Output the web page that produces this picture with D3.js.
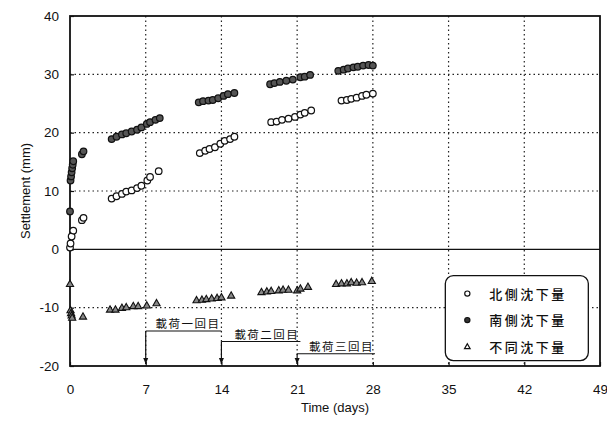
<!DOCTYPE html>
<html>
<head>
<meta charset="utf-8">
<script src="https://cdn.jsdelivr.net/npm/d3@7"></script>
<style>
  body { margin: 0; background: #fff; }
  text { font-family: "Liberation Sans", Arial, sans-serif; fill: #111; }
  .cjk { font-family: "Noto Sans CJK JP", sans-serif; }
</style>
</head>
<body>
<div id="chart-area"></div>
<script>
// North side settlement (open circles): [day, mm]
var northData = [
    [0, 0.3], [0.05, 1.0], [0.15, 2.2], [0.3, 3.2], [1.1, 5.0], [1.25, 5.4],
    [3.85, 8.7], [4.3, 9.1], [4.8, 9.5], [5.2, 9.9], [5.7, 10.1], [6.2, 10.5], [6.6, 10.9], [7.15, 11.8], [7.4, 12.4], [8.2, 13.4],
    [12.0, 16.5], [12.5, 16.9], [12.9, 17.2], [13.4, 17.5], [13.9, 18.1], [14.3, 18.6], [14.8, 18.9], [15.2, 19.3],
    [18.6, 21.8], [19.1, 21.9], [19.6, 22.2], [20.2, 22.4], [20.8, 22.7], [21.3, 23.1], [21.7, 23.4], [22.3, 23.8],
    [25.1, 25.5], [25.6, 25.6], [26.0, 25.8], [26.5, 26.0], [27.0, 26.3], [27.4, 26.5], [28.0, 26.7]
];

// South side settlement (filled circles)
var southData = [
    [0, 6.5], [0.05, 11.8], [0.1, 12.5], [0.15, 13.2], [0.2, 13.9], [0.25, 14.5], [0.3, 15.1], [1.1, 16.3], [1.25, 16.8],
    [3.85, 18.9], [4.3, 19.3], [4.8, 19.7], [5.2, 19.9], [5.7, 20.2], [6.2, 20.5], [6.6, 20.9], [7.1, 21.5], [7.4, 21.8], [7.9, 22.2], [8.3, 22.5],
    [11.9, 25.2], [12.3, 25.4], [12.8, 25.5], [13.2, 25.6], [13.7, 25.9], [14.2, 26.3], [14.6, 26.6], [15.2, 26.8],
    [18.5, 28.3], [18.9, 28.5], [19.4, 28.7], [20.0, 28.9], [20.6, 29.1], [21.3, 29.5], [21.7, 29.6], [22.2, 29.9],
    [24.8, 30.6], [25.3, 30.8], [25.7, 31.0], [26.2, 31.2], [26.6, 31.3], [27.1, 31.5], [27.6, 31.6], [28.0, 31.5]
];

// Differential settlement (triangles)
var diffData = [
    [0, -5.9], [0.05, -10.4], [0.1, -10.9], [0.15, -11.3], [0.2, -11.7], [1.2, -11.5],
    [3.7, -10.3], [4.2, -10.3], [4.8, -10.0], [5.2, -9.9], [5.85, -9.7], [6.3, -9.7], [7.1, -9.6], [8.0, -9.2],
    [11.7, -8.7], [12.2, -8.6], [12.6, -8.5], [13.1, -8.4], [13.6, -8.3], [14.0, -8.2], [14.9, -7.9],
    [17.7, -7.3], [18.2, -7.2], [18.6, -7.1], [19.3, -7.0], [19.7, -6.9], [20.2, -6.9], [21.0, -7.0], [21.3, -6.7], [22.0, -6.4],
    [24.6, -5.9], [25.1, -5.8], [25.6, -5.8], [26.0, -5.6], [26.5, -5.7], [27.0, -5.6], [27.9, -5.4]
];

var xTicks = [0, 7, 14, 21, 28, 35, 42, 49];
var yTicks = [-20, -10, 0, 10, 20, 30, 40];
var legendLabels = ["北側沈下量", "南側沈下量", "不同沈下量"];
var loadDays = [7, 14, 21];
var loadLabels = ["載荷一回目", "載荷二回目", "載荷三回目"];

var margin = { left: 70, right: 7, top: 16, bottom: 60 };
var width = 607 - margin.left - margin.right,
    height = 426 - margin.top - margin.bottom;

var svg = d3.select("#chart-area")
    .append("svg")
    .attr("width", 607)
    .attr("height", 426);

var g = svg.append("g")
    .attr("transform", "translate(" + margin.left + ", " + margin.top + ")");

var x = d3.scaleLinear().domain([0, 49]).range([0, width]);
var y = d3.scaleLinear().domain([-20, 40]).range([height, 0]);

// dotted grid
g.selectAll(".vgrid")
    .data(xTicks.slice(1, -1))
    .enter().append("line")
    .attr("x1", function (d) { return x(d); })
    .attr("x2", function (d) { return x(d); })
    .attr("y1", 0).attr("y2", height)
    .attr("stroke", "#222").attr("stroke-width", 1.2)
    .attr("stroke-dasharray", "1.5,3");

g.selectAll(".hgrid")
    .data(yTicks.filter(function (d) { return d !== 0 && d !== -20 && d !== 40; }))
    .enter().append("line")
    .attr("x1", 0).attr("x2", width)
    .attr("y1", function (d) { return y(d); })
    .attr("y2", function (d) { return y(d); })
    .attr("stroke", "#222").attr("stroke-width", 1.2)
    .attr("stroke-dasharray", "1.5,3");

// zero line
g.append("line")
    .attr("x1", 0).attr("x2", width)
    .attr("y1", y(0)).attr("y2", y(0))
    .attr("stroke", "#111").attr("stroke-width", 1.2);

// axes (ticks drawn inward, labels outside)
var xAxisCall = d3.axisBottom(x).tickValues(xTicks).tickSizeInner(-4).tickSizeOuter(0).tickPadding(18);
g.append("g")
    .attr("class", "x axis")
    .attr("transform", "translate(0, " + height + ")")
    .call(xAxisCall);

var yAxisCall = d3.axisLeft(y).tickValues(yTicks)
    .tickFormat(function (d) { return String(d); }) // plain hyphen like the original
    .tickSizeInner(-4).tickSizeOuter(0).tickPadding(11);
g.append("g")
    .attr("class", "y axis")
    .call(yAxisCall);

g.selectAll(".axis path").remove();
g.selectAll(".axis line").attr("stroke", "#111").attr("stroke-width", 1.2);
g.selectAll(".axis text")
    .attr("font-size", "13.5px")
    .attr("font-family", "Liberation Sans, Arial, sans-serif")
    .attr("fill", "#111");

// frame
g.append("rect")
    .attr("x", 0).attr("y", 0)
    .attr("width", width).attr("height", height)
    .attr("fill", "none")
    .attr("stroke", "#111").attr("stroke-width", 1.8);

// axis labels
g.append("text")
    .attr("x", width / 2)
    .attr("y", height + 46)
    .attr("font-size", "13px")
    .attr("text-anchor", "middle")
    .text("Time (days)");

g.append("text")
    .attr("x", -(height / 2))
    .attr("y", -40)
    .attr("font-size", "13px")
    .attr("text-anchor", "middle")
    .attr("transform", "rotate(-90)")
    .text("Settlement (mm)");

// loading annotations
var lineLevels = [-14.0, -15.8, -17.9];
var lineEnds = [14.0, 21.3, 28.2];
loadDays.forEach(function (d, i) {
    var yl = y(lineLevels[i]);
    g.append("line")
        .attr("x1", x(d)).attr("x2", x(lineEnds[i]))
        .attr("y1", yl).attr("y2", yl)
        .attr("stroke", "#111").attr("stroke-width", 1.2);
    g.append("line")
        .attr("x1", x(d)).attr("x2", x(d))
        .attr("y1", yl).attr("y2", height - 2)
        .attr("stroke", "#111").attr("stroke-width", 1.2);
    g.append("path")
        .attr("d", "M" + (x(d) - 2.5) + "," + (height - 8) + "L" + (x(d) + 2.5) + "," + (height - 8) + "L" + x(d) + "," + (height - 2) + "Z")
        .attr("fill", "#111");
    g.append("text")
        .attr("class", "cjk")
        .attr("x", x(lineEnds[i]) - 1)
        .attr("y", yl - 3)
        .attr("font-size", "11.5px")
        .attr("letter-spacing", "1.5px")
        .attr("text-anchor", "end")
        .text(loadLabels[i]);
});

// markers
function tri(cx, cy, s) {
    return "M" + cx + "," + (cy - s) + "L" + (cx + s) + "," + (cy + s * 0.75) + "L" + (cx - s) + "," + (cy + s * 0.75) + "Z";
}

g.selectAll(".north")
    .data(northData)
    .enter().append("circle")
    .attr("cx", function (d) { return x(d[0]); })
    .attr("cy", function (d) { return y(d[1]); })
    .attr("r", 3.3)
    .attr("fill", "#fff")
    .attr("stroke", "#111").attr("stroke-width", 1.2);

g.selectAll(".south")
    .data(southData)
    .enter().append("circle")
    .attr("cx", function (d) { return x(d[0]); })
    .attr("cy", function (d) { return y(d[1]); })
    .attr("r", 3.3)
    .attr("fill", "#555")
    .attr("stroke", "#111").attr("stroke-width", 1.2);

g.selectAll(".diff")
    .data(diffData)
    .enter().append("path")
    .attr("d", function (d) { return tri(x(d[0]), y(d[1]), 3.6); })
    .attr("fill", "#888")
    .attr("stroke", "#111").attr("stroke-width", 1.1);

// legend
var lg = g.append("g").attr("transform", "translate(" + (x(34.7)) + ", " + (y(-4.5)) + ")");
lg.append("rect")
    .attr("x", 0).attr("y", 0)
    .attr("width", 143).attr("height", 85)
    .attr("rx", 8).attr("ry", 8)
    .attr("fill", "#fff")
    .attr("stroke", "#111").attr("stroke-width", 1.3);

legendLabels.forEach(function (label, i) {
    var ly = 18 + i * 26.5;
    if (i === 2) {
        lg.append("path")
            .attr("d", tri(22, ly, 2.8))
            .attr("fill", "#fff").attr("stroke", "#111").attr("stroke-width", 1.2);
    } else {
        lg.append("circle")
            .attr("cx", 22).attr("cy", ly).attr("r", 2.6)
            .attr("fill", i === 0 ? "#fff" : "#333")
            .attr("stroke", "#111").attr("stroke-width", 1.2);
    }
    lg.append("text")
        .attr("class", "cjk")
        .attr("x", 44).attr("y", ly + 5)
        .attr("font-size", "13px")
        .attr("font-weight", "500")
        .attr("letter-spacing", "2.5px")
        .text(label);
});
</script>
</body>
</html>
